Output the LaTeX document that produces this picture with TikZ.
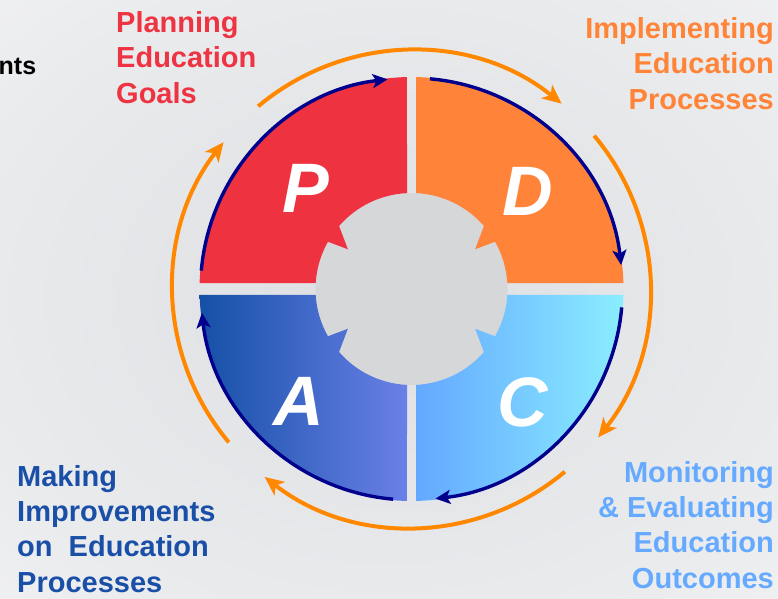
\documentclass[tikz,border=0pt]{standalone}
\usepackage{fontspec}
\setmainfont{Liberation Sans}
\usetikzlibrary{arrows.meta}
\definecolor{bgin}{RGB}{222,223,226}
\definecolor{bgmid}{RGB}{234,235,237}
\definecolor{bgout}{RGB}{248,248,248}
\definecolor{hub}{RGB}{214,215,217}
\definecolor{pred}{RGB}{239,50,64}
\definecolor{dorange}{RGB}{255,132,57}
\definecolor{adark}{RGB}{21,80,166}
\definecolor{alight}{RGB}{106,128,232}
\definecolor{cleft}{RGB}{100,168,255}
\definecolor{cright}{RGB}{138,238,255}
\definecolor{navy}{RGB}{0,0,140}
\definecolor{ring}{RGB}{255,136,0}
\definecolor{tred}{RGB}{238,51,66}
\definecolor{torange}{RGB}{255,132,56}
\definecolor{tlblue}{RGB}{102,170,255}
\definecolor{tdblue}{RGB}{26,79,168}
\pgfdeclareradialshading{bgshade}{\pgfpoint{0bp}{0bp}}{color(0bp)=(bgin); color(28bp)=(bgmid); color(50bp)=(bgout)}
\tikzset{
  quad/.style 2 args={insert path={
    ({#1+#2*88.78}:212pt) arc[start angle={#1+#2*88.78}, end angle={#1+#2*1.62}, radius=212pt]
    -- ({#1+#2*3.58}:96pt) arc[start angle={#1+#2*3.58}, end angle={#1+#2*29.5}, radius=96pt]
    -- ({#1+#2*32}:75pt) -- ({#1+#2*41}:96pt)
    arc[start angle={#1+#2*41}, end angle={#1+#2*87.31}, radius=96pt] -- cycle}},
  navyarc/.style={draw=navy, line width=3.4pt, -{Stealth[length=15pt,width=14pt,inset=3.5pt]}},
  ringarc/.style={draw=ring, line width=4pt, -{Stealth[length=19pt,width=17pt,inset=5pt]}},
  letter/.style={font=\fontsize{70}{80}\selectfont\bfseries\itshape, text=white, inner sep=0pt},
  lbl/.style={font=\fontsize{29}{35.3}\selectfont\bfseries, inner sep=0pt}
}
\begin{document}
\begin{tikzpicture}[x=1pt,y=1pt]
\shade[shading=bgshade] (0,0) rectangle (778,598);
\useasboundingbox (0,0) rectangle (778,598);
\begin{scope}[shift={(411.5,309)}]
  \coordinate (c) at (0,0);
  \fill[hub] (c) circle[radius=96pt];
  \fill[pred, quad={180}{-1}];
  \fill[dorange, quad={0}{1}];
  \shade[left color=adark, right color=alight, quad={180}{1}];
  \shade[left color=cleft, right color=cright, quad={0}{-1}];
  % inner arrows
  \draw[navyarc] (175:211pt) arc[start angle=175, end angle=96.5, radius=211pt];
  \draw[navyarc] (85:211pt) arc[start angle=85, end angle=6.5, radius=211pt];
  \draw[navyarc] (-5:211pt) arc[start angle=-5, end angle=-83.5, radius=211pt];
  \draw[navyarc] (-95:211pt) arc[start angle=-95, end angle=-173.5, radius=211pt];
  % outer arrows
  \draw[ringarc] (130:238.5pt) arc[start angle=130, end angle=51, radius=238.5pt];
  \draw[ringarc] (40:238.5pt) arc[start angle=40, end angle=-38.5, radius=238.5pt];
  \draw[ringarc] (-50:238.5pt) arc[start angle=-50, end angle=-128, radius=238.5pt];
  \draw[ringarc] (220:238.5pt) arc[start angle=220, end angle=142, radius=238.5pt];
\end{scope}
\node[letter] (P) at (305.5,410) {P};
\node[letter] (D) at (528,406.5) {D};
\node[letter] (A) at (299,196.5) {A};
\node[letter] (C) at (523,195.5) {C};
\node[lbl, text=tred, anchor=north west, align=left] (plan) at (116,586.8) {Planning\\Education\\Goals};
\node[lbl, text=torange, anchor=north east, align=right] (impl) at (774,580.8) {Implementing\\Education\\Processes};
\node[lbl, text=tlblue, anchor=north east, align=right] (mon) at (774,137) {Monitoring\\\&~Evaluating\\Education\\Outcomes};
\node[lbl, text=tdblue, anchor=north west, align=left] (make) at (17,133) {Making\\Improvements\\on~~Education\\Processes};
\node[font=\fontsize{25}{30}\selectfont\bfseries, anchor=base west, inner sep=0pt] (nts) at (-1.5,523) {nts};
\end{tikzpicture}
\end{document}
